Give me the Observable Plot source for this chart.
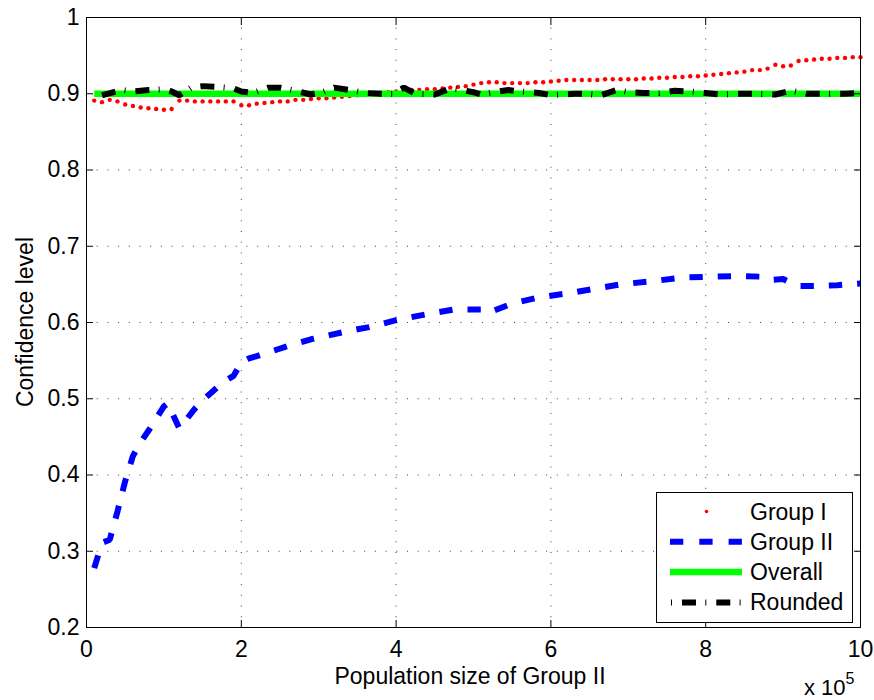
<!DOCTYPE html>
<html><head><meta charset="utf-8">
<script src="https://cdn.jsdelivr.net/npm/d3@7"></script>
<script src="https://cdn.jsdelivr.net/npm/@observablehq/plot@0.6"></script>
<style>
body{margin:0;background:#fff;}
#chart{width:874px;height:700px;}
</style></head><body><div id="chart"></div>
<script>
const xTicks = [0, 2, 4, 6, 8, 10];
const yTicks = [0.2, 0.3, 0.4, 0.5, 0.6, 0.7, 0.8, 0.9, 1];
const seriesNames = ["Group I", "Group II", "Overall", "Rounded"];

const groupIx = [0.1,0.2,0.3,0.4,0.5,0.6,0.7,0.8,0.9,1.0,1.1,1.2,1.3,1.4,1.5,1.6,1.7,1.8,1.9,2.0,
  2.1,2.2,2.3,2.4,2.5,2.6,2.7,2.8,2.9,3.0,3.1,3.2,3.3,3.4,3.5,3.6,3.7,3.8,3.9,4.0,
  4.1,4.2,4.3,4.4,4.5,4.6,4.7,4.8,4.9,5.0,5.1,5.2,5.3,5.4,5.5,5.6,5.7,5.8,5.9,6.0,
  6.1,6.2,6.3,6.4,6.5,6.6,6.7,6.8,6.9,7.0,7.1,7.2,7.3,7.4,7.5,7.6,7.7,7.8,7.9,8.0,
  8.1,8.2,8.3,8.4,8.5,8.6,8.7,8.8,8.9,9.0,9.1,9.2,9.3,9.4,9.5,9.6,9.7,9.8,9.9,10.0];
const groupIy = [0.891,0.889,0.892,0.890,0.886,0.884,0.882,0.881,0.880,0.879,0.880,0.891,0.891,0.890,0.890,0.890,0.890,0.890,0.890,0.885,
  0.885,0.887,0.888,0.889,0.890,0.890,0.892,0.892,0.893,0.894,0.894,0.895,0.896,0.897,0.898,0.899,0.900,0.901,0.902,0.903,
  0.904,0.905,0.905,0.906,0.906,0.907,0.908,0.909,0.910,0.912,0.914,0.915,0.915,0.914,0.914,0.914,0.914,0.915,0.915,0.916,
  0.917,0.918,0.918,0.918,0.918,0.918,0.919,0.919,0.919,0.919,0.919,0.920,0.920,0.921,0.921,0.922,0.922,0.923,0.923,0.924,
  0.925,0.926,0.927,0.928,0.929,0.931,0.931,0.933,0.938,0.936,0.937,0.943,0.944,0.945,0.946,0.946,0.947,0.947,0.948,0.948];

const groupIIx = [0.1,0.2,0.3,0.4,0.5,0.6,0.7,0.8,0.9,1.0,1.05,1.2,1.3,1.4,1.5,1.6,1.7,1.8,1.9,2.0,2.1,2.2,
  2.6,2.9,3.3,3.65,4.0,4.4,4.75,5.1,5.2,5.5,5.85,6.2,6.55,6.9,7.3,7.7,8.05,8.4,8.75,8.85,9.0,9.1,9.2,9.5,9.7,10.0];
const groupIIy = [0.278,0.311,0.315,0.352,0.392,0.425,0.443,0.458,0.474,0.490,0.494,0.461,0.474,0.487,0.498,0.507,0.516,0.524,0.530,0.548,0.553,0.556,
  0.569,0.578,0.587,0.594,0.603,0.611,0.617,0.617,0.613,0.625,0.633,0.638,0.644,0.650,0.654,0.659,0.660,0.661,0.660,0.656,0.657,0.652,0.648,0.648,0.649,0.651];

const overallX = [0.1,1,2,3,4,5,6,7,8,9,10];
const overallY = [0.9,0.9,0.9,0.9,0.9,0.9,0.9,0.9,0.9,0.9,0.9];

const roundedX = [0.2,0.45,0.6,0.8,1.0,1.1,1.2,1.35,1.5,1.7,1.9,2.0,2.15,2.35,2.5,2.7,2.9,3.05,3.2,3.4,3.6,3.8,3.95,4.1,4.25,4.5,4.7,4.85,5.0,5.1,5.25,5.45,5.6,5.85,6.0,6.3,6.45,6.65,6.85,7.0,7.2,7.4,7.6,7.8,8.0,8.2,8.4,8.6,8.9,9.1,9.3,9.5,9.8,10.0];
const roundedY = [0.898,0.905,0.903,0.905,0.906,0.903,0.898,0.908,0.910,0.909,0.907,0.903,0.901,0.908,0.908,0.904,0.899,0.902,0.908,0.905,0.901,0.900,0.900,0.908,0.900,0.899,0.907,0.905,0.902,0.899,0.902,0.905,0.903,0.901,0.898,0.900,0.900,0.898,0.905,0.902,0.901,0.901,0.904,0.903,0.901,0.899,0.900,0.900,0.899,0.904,0.900,0.900,0.900,0.901];

const zip = (xs, ys) => xs.map((x, i) => ({x, y: ys[i]}));
const font = "'Liberation Sans', Arial, Helvetica, sans-serif";
const FS = 23;

const gridStyle = {stroke: "#000", strokeOpacity: 0.75, strokeWidth: 1, strokeDasharray: "1,9.7"};

const plot = Plot.plot({
  width: 874, height: 700,
  marginLeft: 86, marginRight: 14, marginTop: 17, marginBottom: 73,
  style: {fontFamily: font, fontSize: FS + "px", background: "#fff", color: "#000"},
  x: {domain: [0, 10]},
  y: {domain: [0.2, 1]},
  marks: [
    Plot.gridX(xTicks, gridStyle),
    Plot.gridY(yTicks, gridStyle),
    Plot.dot(zip(groupIx, groupIy), {x: "x", y: "y", r: 2.2, fill: "#ff0000", stroke: "none"}),
    Plot.line(zip(groupIIx, groupIIy), {x: "x", y: "y", stroke: "#0000ff", strokeWidth: 6, strokeDasharray: "13.3,15", strokeLinecap: "butt", strokeLinejoin: "miter"}),
    Plot.line(zip(overallX, overallY), {x: "x", y: "y", stroke: "#00ff00", strokeWidth: 6.5, strokeLinecap: "butt"}),
    Plot.line(zip(roundedX, roundedY), {x: "x", y: "y", stroke: "#000", strokeWidth: 6, strokeDasharray: "14,9.3,1,10", strokeLinecap: "butt", strokeLinejoin: "miter"}),
    Plot.frame({stroke: "#000", strokeWidth: 1}),
    Plot.axisX(xTicks, {anchor: "bottom", tickSize: -7, tickPadding: 20, label: null, tickFormat: d => String(d), fontSize: FS}),
    Plot.axisX(xTicks, {anchor: "top", tickSize: -7, label: null, tickFormat: () => ""}),
    Plot.axisY(yTicks, {anchor: "left", tickSize: -7, tickPadding: 14, label: null, tickFormat: d => d === 1 ? "1" : d.toFixed(1), fontSize: FS}),
    Plot.axisY(yTicks, {anchor: "right", tickSize: -7, label: null, tickFormat: () => ""})
  ]
});

const svg = d3.select(plot);
// axis titles
svg.append("text").attr("x", 470).attr("y", 684).attr("text-anchor", "middle")
  .attr("font-family", font).attr("font-size", FS).attr("fill", "#000").text("Population size of Group II");
svg.append("text").attr("transform", "translate(33,322) rotate(-90)").attr("text-anchor", "middle")
  .attr("font-family", font).attr("font-size", FS).attr("fill", "#000").text("Confidence level");
const ex = svg.append("text").attr("x", 804).attr("y", 695).attr("text-anchor", "start")
  .attr("font-family", font).attr("font-size", FS - 1).attr("fill", "#000");
ex.append("tspan").text("x 10");
ex.append("tspan").attr("dy", -11).attr("font-size", 16).text("5");

// legend
const lg = svg.append("g");
lg.append("rect").attr("x", 656.5).attr("y", 492.5).attr("width", 196).attr("height", 130)
  .attr("fill", "#fff").attr("stroke", "#000").attr("stroke-width", 1);
const rowY = [511.5, 541.8, 572, 602.4];
seriesNames.forEach((name, i) => {
  const y = rowY[i];
  if (i === 0) {
    lg.append("circle").attr("cx", 706.5).attr("cy", y).attr("r", 1.8).attr("fill", "#ff0000");
  } else if (i === 1) {
    lg.append("line").attr("x1", 670).attr("x2", 742).attr("y1", y).attr("y2", y)
      .attr("stroke", "#0000ff").attr("stroke-width", 6).attr("stroke-dasharray", "13.3,16");
  } else if (i === 2) {
    lg.append("line").attr("x1", 670).attr("x2", 742).attr("y1", y).attr("y2", y)
      .attr("stroke", "#00ff00").attr("stroke-width", 6.5);
  } else {
    lg.append("line").attr("x1", 671).attr("x2", 742).attr("y1", y).attr("y2", y)
      .attr("stroke", "#000").attr("stroke-width", 6).attr("stroke-dasharray", "14,9.3,1,10").attr("stroke-dashoffset", 23.3);
  }
  lg.append("text").attr("x", 750).attr("y", y + 8).attr("text-anchor", "start")
    .attr("font-family", font).attr("font-size", FS).attr("fill", "#000").text(name);
});

document.getElementById("chart").appendChild(plot);
</script>
</body></html>
